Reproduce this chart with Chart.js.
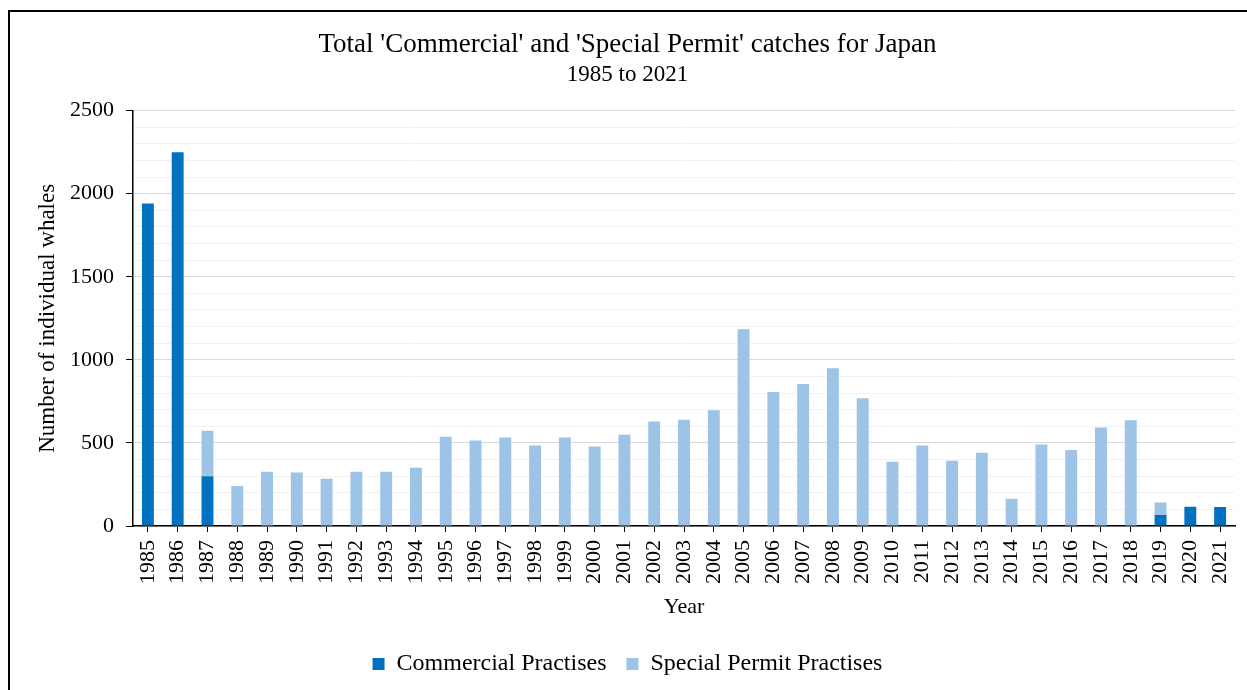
<!DOCTYPE html>
<html>
<head>
<meta charset="utf-8">
<script src="https://cdn.jsdelivr.net/npm/chart.js@4"></script>
<style>
  html, body { margin: 0; padding: 0; background: #fff; overflow: hidden; }
  #wrap { position: relative; width: 1247px; height: 690px; }
  #frame { position: absolute; left: 8px; top: 10px; width: 1400px; height: 900px; border: 2px solid #000; box-sizing: border-box; pointer-events: none; }
  canvas { position: absolute; left: 0; top: 0; }
</style>
</head>
<body>
<div id="wrap">
  <div id="frame"></div>
  <canvas id="whaleChart" width="1247" height="690"></canvas>
</div>
<script>
const years = ['1985','1986','1987','1988','1989','1990','1991','1992','1993','1994','1995','1996','1997','1998','1999','2000','2001','2002','2003','2004','2005','2006','2007','2008','2009','2010','2011','2012','2013','2014','2015','2016','2017','2018','2019','2020','2021'];

const commercial = [1941, 2250, 300, 0, 0, 0, 0, 0, 0, 0, 0, 0, 0, 0, 0, 0, 0, 0, 0, 0, 0, 0, 0, 0, 0, 0, 0, 0, 0, 0, 0, 0, 0, 0, 66, 116, 114];

const specialPermit = [0, 0, 273, 241, 326, 322, 284, 326, 326, 350, 537, 515, 533, 485, 533, 479, 549, 629, 639, 697, 1184, 807, 855, 950, 769, 387, 485, 393, 441, 164, 491, 457, 593, 637, 76, 0, 0];

const yTicks = [0, 500, 1000, 1500, 2000, 2500];

const serif = '"Liberation Serif", "Times New Roman", serif';

const ctx = document.getElementById('whaleChart').getContext('2d');

new Chart(ctx, {
    type: 'bar',
    data: {
        labels: years,
        datasets: [
            {
                label: 'Commercial Practises',
                data: commercial,
                backgroundColor: '#0070C0',
                borderWidth: 0,
                barPercentage: 0.4,
                categoryPercentage: 1
            },
            {
                label: 'Special Permit Practises',
                data: specialPermit,
                backgroundColor: '#9DC3E6',
                borderWidth: 0,
                barPercentage: 0.4,
                categoryPercentage: 1
            }
        ]
    },
    options: {
        responsive: false,
        animation: false,
        layout: { padding: { left: 20, right: 12, top: 0, bottom: 4 } },
        plugins: {
            title: {
                display: true,
                text: "Total 'Commercial' and 'Special Permit' catches for Japan",
                color: '#000',
                font: { family: serif, size: 27, weight: 'normal' },
                padding: { top: 28.4, bottom: 0 }
            },
            subtitle: {
                display: true,
                text: '1985 to 2021',
                color: '#000',
                font: { family: serif, size: 23, weight: 'normal' },
                padding: { top: 0, bottom: 22.2 }
            },
            legend: {
                position: 'bottom',
                labels: {
                    color: '#000',
                    boxWidth: 12,
                    boxHeight: 12,
                    padding: 20,
                    font: { family: serif, size: 24 }
                }
            },
            tooltip: { enabled: false }
        },
        scales: {
            x: {
                stacked: true,
                border: { display: true, color: '#000', width: 1.5 },
                grid: {
                    display: true,
                    drawOnChartArea: false,
                    offset: false,
                    tickLength: 6,
                    tickColor: '#000'
                },
                ticks: {
                    color: '#000',
                    autoSkip: false,
                    minRotation: 90,
                    maxRotation: 90,
                    padding: 8,
                    font: { family: serif, size: 22 }
                },
                title: {
                    display: true,
                    text: 'Year',
                    color: '#000',
                    font: { family: serif, size: 22 },
                    padding: { top: 4, bottom: 11.8 }
                },
                afterFit: s => {
                    s.height = 106;
                    s.paddingLeft = 0;
                    s.paddingRight = 0;
                }
            },
            y: {
                stacked: true,
                min: 0,
                max: yTicks[yTicks.length - 1],
                border: { display: true, color: '#000', width: 1.5 },
                grid: {
                    color: c => (c.tick && c.tick.value % 500 === 0) ? '#d9d9d9' : '#f2f2f2',
                    lineWidth: 1,
                    tickLength: 7,
                    tickColor: c => (c.tick && c.tick.value % 500 === 0) ? '#000' : 'rgba(0,0,0,0)'
                },
                ticks: {
                    stepSize: 100,
                    color: '#000',
                    padding: 12,
                    autoSkip: false,
                    font: { family: serif, size: 22 },
                    callback: v => yTicks.includes(v) ? String(v) : ''
                },
                title: {
                    display: true,
                    text: 'Number of individual whales',
                    color: '#000',
                    font: { family: serif, size: 23 },
                    padding: { top: 14.2, bottom: 0 }
                },
                afterFit: s => { s.width = 113; }
            }
        }
    }
});
</script>
</body>
</html>
